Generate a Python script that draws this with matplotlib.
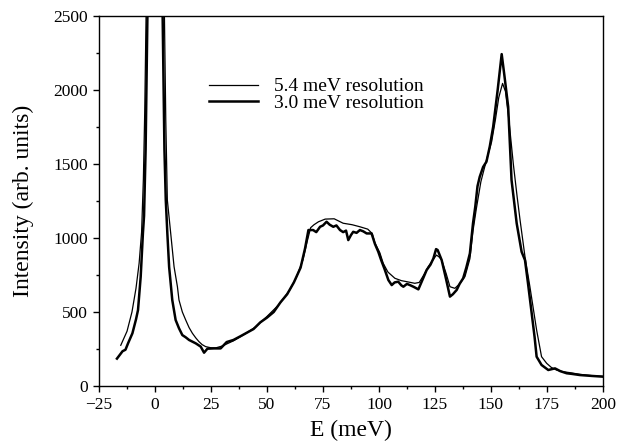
import matplotlib
matplotlib.use("Agg")
import matplotlib.pyplot as plt
from matplotlib.ticker import MultipleLocator

# 5.4 meV resolution (thin line)
thin_E = [-15.3, -12.5, -10.3, -8.5, -7.1, -6.0, -5.2, -4.6, -4.0, 0.0, 4.2, 4.8, 5.5, 7.0, 8.5,
          10.0, 10.7, 12.2, 13.7, 15.2, 16.7, 18.2, 19.6, 21.0, 22.6, 25.0, 27.0, 30.0, 35.0,
          40.0, 45.0, 50.0, 55.0, 60.0, 63.0, 66.0, 68.0, 69.5, 71.0, 73.0, 76.0, 80.0, 84.0,
          88.0, 91.5, 95.0, 97.0, 98.2, 100.4, 101.9, 104.0, 107.1, 110.0, 112.4, 116.0, 118.0,
          120.0, 122.0, 124.0, 125.7, 127.0, 128.0, 130.0, 131.7, 133.9, 136.0, 138.4, 140.6,
          142.0, 143.5, 145.5, 148.0, 150.3, 152.0, 153.5, 155.2, 156.5, 158.0, 160.0, 161.7,
          163.0, 165.2, 167.4, 170.4, 172.6, 174.9, 177.0, 179.3, 182.0, 185.3, 190.0, 195.0, 200.0]
thin_I = [275, 370, 500, 660, 830, 1040, 1400, 1850, 2500, 7000, 2500, 1800, 1257, 1032, 806,
          671, 581, 500, 446, 395, 356, 325, 300, 280, 266, 258, 257, 270, 305,
          350, 400, 470, 545, 645, 730, 850, 980, 1070, 1090, 1110, 1128, 1130, 1100,
          1090, 1076, 1060, 1030, 966, 900, 829, 770, 728, 712, 705, 694, 700,
          750, 806, 850, 885, 870, 851, 760, 671, 660, 690, 739, 860,
          1050, 1200, 1380, 1527, 1650, 1800, 1950, 2045, 1990, 1800, 1500, 1279,
          1122, 874, 671, 378, 198, 153, 125, 108, 97, 90, 78, 70, 65]

# 3.0 meV resolution (thick line)
thick_E = [-17.0, -15.5, -14.5, -13.2, -12.0, -10.1, -8.5, -7.6, -6.4, -5.4, -4.9, -4.2, -3.4, 0.0,
           3.4, 4.2, 4.8, 5.5, 6.3, 7.7, 9.2, 10.7, 12.2, 13.7, 15.2, 18.2, 20.4, 21.9, 23.4,
           26.3, 29.3, 32.0, 35.0, 38.0, 41.0, 44.0, 47.0, 50.0, 53.0, 56.0, 59.0, 62.0, 65.0,
           67.0, 68.5, 70.6, 72.0, 73.7, 75.0, 76.6, 78.0, 79.6, 81.0, 82.6, 84.0, 85.3, 86.3,
           87.5, 88.5, 90.0, 91.5, 93.0, 94.5, 96.7, 98.2, 99.7, 101.0, 102.5, 104.2, 105.7,
           107.0, 108.6, 110.0, 110.9, 112.5, 113.8, 115.5, 117.6, 119.5, 121.3, 123.0, 124.3,
           125.5, 126.2, 128.0, 130.0, 131.7, 133.0, 134.7, 136.0, 137.6, 139.0, 140.6, 142.0,
           143.0, 144.0, 145.0, 146.5, 148.0, 149.5, 151.0, 153.0, 154.8, 156.0, 157.7, 159.2,
           161.5, 163.7, 165.2, 166.5, 168.2, 169.5, 170.4, 172.6, 175.6, 178.6, 181.0, 183.8,
           186.0, 189.7, 195.0, 200.0]
thick_I = [185, 215, 235, 245, 290, 356, 450, 513, 739, 1034, 1150, 1600, 2500, 9000,
           2500, 1600, 1257, 1032, 804, 581, 446, 390, 344, 329, 311, 288, 266, 225, 252,
           254, 254, 297, 311, 335, 360, 385, 430, 462, 500, 565, 620, 700, 800,
           930, 1054, 1054, 1040, 1076, 1085, 1110, 1090, 1076, 1085, 1054, 1040, 1050, 986,
           1020, 1042, 1035, 1054, 1045, 1031, 1031, 960, 907, 850, 790, 716, 682,
           700, 705, 680, 671, 690, 682, 670, 653, 720, 784, 820, 862,
           925, 919, 851, 720, 604, 620, 649, 690, 728, 800, 896, 1100,
           1211, 1350, 1414, 1480, 1516, 1620, 1752, 2000, 2243, 2100, 1887, 1392,
           1099, 907, 851, 700, 491, 330, 198, 142, 108, 119, 100, 86,
           82, 74, 68, 63]

labels = ["5.4 meV resolution", "3.0 meV resolution"]
x_ticks = [-25, 0, 25, 50, 75, 100, 125, 150, 175, 200]
y_ticks = [0, 500, 1000, 1500, 2000, 2500]

plt.rcParams['font.family'] = ['Liberation Serif', 'DejaVu Serif']

fig = plt.figure(figsize=(6.19, 4.47), dpi=100)
ax = fig.add_axes([0.160, 0.1365, 0.814, 0.8275])

ax.plot(thin_E, thin_I, color='black', lw=0.9, label=labels[0])
ax.plot(thick_E, thick_I, color='black', lw=1.8, label=labels[1])

ax.set_xlim(-25, 200)
ax.set_ylim(0, 2500)
ax.set_xticks(x_ticks)
ax.set_yticks(y_ticks)
ax.xaxis.set_minor_locator(MultipleLocator(12.5))
ax.yaxis.set_minor_locator(MultipleLocator(250))
ax.tick_params(which='major', direction='out', length=4.5, width=1, labelsize=12.5,
               top=False, right=False)
ax.tick_params(which='minor', direction='out', length=2.5, width=1, top=False, right=False)
for s in ax.spines.values():
    s.set_linewidth(1)

ax.set_xlabel("E (meV)", fontsize=17, labelpad=5)
ax.set_ylabel("Intensity (arb. units)", fontsize=17, labelpad=14)

leg = ax.legend(loc='center left', bbox_to_anchor=(0.219, 0.787), frameon=False,
                fontsize=14, handlelength=2.5, handletextpad=0.8, labelspacing=-0.05,
                borderaxespad=0, borderpad=0)

fig.savefig("out.png", dpi=100)
